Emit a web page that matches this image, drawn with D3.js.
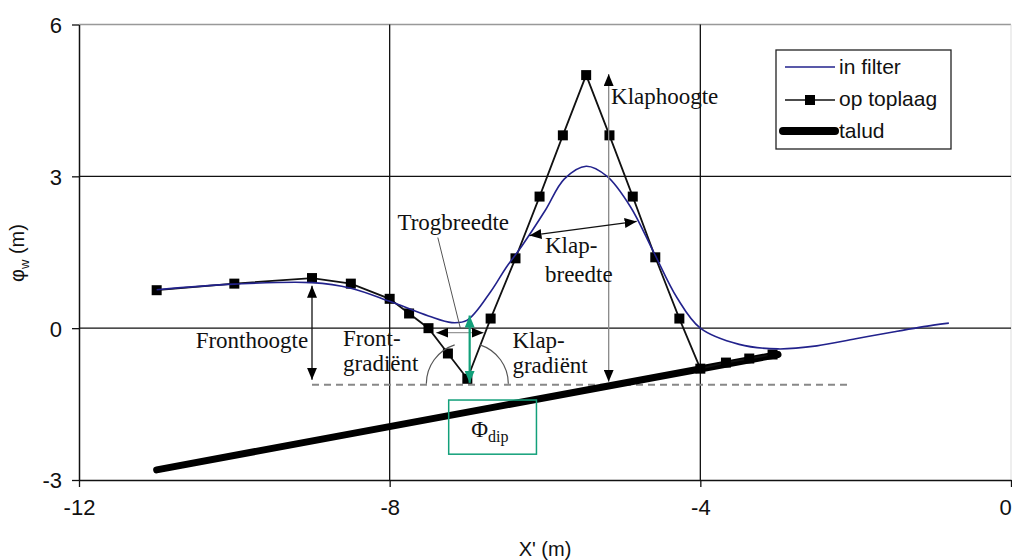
<!DOCTYPE html>
<html lang="nl">
<head>
<meta charset="UTF-8">
<script src="https://d3js.org/d3.v7.min.js"></script>
<title>Golfklap</title>
<style>
body{margin:0;background:#fff;}
svg text{font-family:"Liberation Sans",Arial,sans-serif;}
.ann{font-family:"Liberation Serif","Times New Roman",serif;font-size:23px;fill:#111;}
</style>
</head>
<body>
<div id="chart"></div>
<script>
// tick labels
var xTicks = [-12, -8, -4, 0];
var yTicks = [-3, 0, 3, 6];

// in filter (smooth curve)
var filterX = [-11, -10, -9, -8.5, -8, -7.5, -7.2, -7.0, -6.7, -6.5, -6.3, -6.0, -5.75, -5.47, -5.2, -4.9, -4.6, -4.3, -4.0, -3.5, -3.0, -2.5, -2.0, -1.5, -1.0, -0.8];
var filterY = [0.76, 0.87, 0.9, 0.79, 0.53, 0.24, 0.11, 0.16, 0.72, 1.2, 1.62, 2.32, 2.95, 3.2, 3.0, 2.4, 1.5, 0.6, 0.0, -0.32, -0.41, -0.35, -0.21, -0.07, 0.06, 0.1];

// op toplaag (markers)
var toplaagX = [-11, -10, -9, -8.5, -8, -7.75, -7.5, -7.25, -7, -6.7, -6.38, -6.07, -5.77, -5.47, -5.17, -4.87, -4.58, -4.27, -4, -3.67, -3.37, -3.07];
var toplaagY = [0.75, 0.88, 0.99, 0.88, 0.58, 0.29, 0, -0.5, -1.0, 0.19, 1.38, 2.6, 3.81, 5.0, 3.81, 2.6, 1.4, 0.19, -0.8, -0.68, -0.6, -0.52];

// talud
var taludX = [-11, -3];
var taludY = [-2.8, -0.52];

window.onload = function() {
	var width = 1012, height = 560;
	var x = d3.scaleLinear().domain([-12, 0]).range([79, 1011]);
	var y = d3.scaleLinear().domain([-3, 6]).range([480, 24.5]);

	var svg = d3.select("#chart").append("svg")
		.attr("width", width).attr("height", height);

	var defs = svg.append("defs");
	function marker(id, color) {
		defs.append("marker")
			.attr("id", id)
			.attr("viewBox", "0 0 12 10")
			.attr("refX", 12).attr("refY", 5)
			.attr("markerUnits", "userSpaceOnUse")
			.attr("markerWidth", 12).attr("markerHeight", 10)
			.attr("orient", "auto-start-reverse")
			.append("path")
			.attr("d", "M0,0 L12,5 L0,10 z")
			.attr("fill", color);
	}
	marker("ah", "#000");
	marker("ahg", "#12a07a");

	// grid
	svg.append("line").attr("x1", x(-12)).attr("x2", x(0)).attr("y1", y(6)).attr("y2", y(6))
		.attr("stroke", "#999").attr("stroke-width", 1.5);
	svg.append("line").attr("x1", x(0)).attr("x2", x(0)).attr("y1", y(6)).attr("y2", y(-3))
		.attr("stroke", "#ddd").attr("stroke-width", 1);
	[0, 3].forEach(function(v) {
		svg.append("line").attr("x1", x(-12)).attr("x2", x(0)).attr("y1", y(v)).attr("y2", y(v))
			.attr("stroke", "#111").attr("stroke-width", 1.3);
	});
	[-8, -4].forEach(function(v) {
		svg.append("line").attr("x1", x(v)).attr("x2", x(v)).attr("y1", y(6)).attr("y2", y(-3))
			.attr("stroke", "#111").attr("stroke-width", 1.3);
	});

	// axes
	var fmt = function(d) { return String(d); };
	var xAxis = svg.append("g").attr("transform", "translate(0," + y(-3) + ")")
		.call(d3.axisBottom(x).tickValues(xTicks).tickFormat(fmt).tickSize(7).tickSizeOuter(0).tickPadding(12));
	var yAxis = svg.append("g").attr("transform", "translate(" + x(-12) + ",0)")
		.call(d3.axisLeft(y).tickValues(yTicks).tickFormat(fmt).tickSize(7).tickSizeOuter(0).tickPadding(10));
	[xAxis, yAxis].forEach(function(g) {
		g.select(".domain").attr("stroke", "#111").attr("stroke-width", 1.5);
		g.selectAll(".tick line").attr("stroke", "#111").attr("stroke-width", 1.3);
		g.selectAll("text").attr("font-size", 22).attr("fill", "#111")
			.attr("font-family", "Liberation Sans, Arial, sans-serif");
	});
	yAxis.selectAll("text").attr("dy", "0.36em");
	// keep the last x label inside the page
	xAxis.selectAll(".tick text").filter(function(d) { return d === 0; }).attr("dx", -6);

	// axis titles
	svg.append("text").attr("x", 545).attr("y", 556).attr("text-anchor", "middle")
		.attr("font-size", 20).attr("fill", "#111").text("X' (m)");
	var yt = svg.append("text").attr("transform", "translate(24,253) rotate(-90)")
		.attr("text-anchor", "middle").attr("font-size", 20).attr("fill", "#111");
	yt.append("tspan").text("φ");
	yt.append("tspan").attr("font-size", 13).attr("dy", 5).text("w");
	yt.append("tspan").attr("dy", -5).text(" (m)");

	// dashed reference line
	svg.append("line").attr("x1", x(-9)).attr("x2", x(-2.1)).attr("y1", y(-1.12)).attr("y2", y(-1.12))
		.attr("stroke", "#888").attr("stroke-width", 2).attr("stroke-dasharray", "7,5");

	// talud
	var taludData = taludX.map(function(d, i) { return [d, taludY[i]]; });
	svg.append("path").datum(taludData)
		.attr("d", d3.line().x(function(d) { return x(d[0]); }).y(function(d) { return y(d[1]); }))
		.attr("fill", "none").attr("stroke", "#000").attr("stroke-width", 7).attr("stroke-linecap", "round");

	// op toplaag
	var topData = toplaagX.map(function(d, i) { return [d, toplaagY[i]]; });
	svg.append("path").datum(topData)
		.attr("d", d3.line().x(function(d) { return x(d[0]); }).y(function(d) { return y(d[1]); }))
		.attr("fill", "none").attr("stroke", "#111").attr("stroke-width", 1.8);
	svg.selectAll(".sq").data(topData).enter().append("rect")
		.attr("class", "sq")
		.attr("x", function(d) { return x(d[0]) - 5; })
		.attr("y", function(d) { return y(d[1]) - 5; })
		.attr("width", 10).attr("height", 10).attr("fill", "#000");

	// in filter
	var filterData = filterX.map(function(d, i) { return [d, filterY[i]]; });
	svg.append("path").datum(filterData)
		.attr("d", d3.line().curve(d3.curveCatmullRom.alpha(0.5))
			.x(function(d) { return x(d[0]); }).y(function(d) { return y(d[1]); }))
		.attr("fill", "none").attr("stroke", "#22228c").attr("stroke-width", 1.6);

	// annotation arrows
	function arrow(x1, y1, x2, y2, color, both, mk, w) {
		var l = svg.append("line")
			.attr("x1", x(x1)).attr("y1", y(y1)).attr("x2", x(x2)).attr("y2", y(y2))
			.attr("stroke", color).attr("stroke-width", w || 1.3)
			.attr("marker-end", "url(#" + mk + ")");
		if (both) l.attr("marker-start", "url(#" + mk + ")");
	}
	arrow(-9, 0.84, -9, -1.02, "#111", true, "ah");            // Fronthoogte
	arrow(-5.18, 5.02, -5.18, -1.06, "#888", true, "ah");      // Klaphoogte
	arrow(-6.2, 1.83, -4.82, 2.11, "#111", true, "ah");        // Klapbreedte
	arrow(-7.4, -0.09, -6.79, -0.09, "#999", true, "ah");      // Trogbreedte
	arrow(-7.38, 1.79, -7.09, 0.0, "#555", false, "none", 1);  // leader
	arrow(-6.97, 0.25, -6.97, -1.08, "#12a07a", true, "ahg", 2.2); // Phi dip

	// gradient arcs around the trough
	var cx = x(-7), cy = y(-1.1), r = 41;
	function arcPath(a0, a1) {
		var p0 = [cx + r * Math.cos(a0), cy - r * Math.sin(a0)];
		var p1 = [cx + r * Math.cos(a1), cy - r * Math.sin(a1)];
		return "M" + p0[0] + "," + p0[1] + " A" + r + "," + r + " 0 0 0 " + p1[0] + "," + p1[1];
	}
	svg.append("path").attr("d", arcPath(Math.PI * 0.6, Math.PI))
		.attr("fill", "none").attr("stroke", "#555").attr("stroke-width", 1.2);
	svg.append("path").attr("d", arcPath(0, Math.PI * 0.4))
		.attr("fill", "none").attr("stroke", "#555").attr("stroke-width", 1.2);

	// Phi dip box
	svg.append("rect").attr("x", x(-7.24)).attr("y", y(-1.42))
		.attr("width", x(-6.11) - x(-7.24)).attr("height", y(-2.49) - y(-1.42))
		.attr("fill", "none").attr("stroke", "#12a07a").attr("stroke-width", 1.5);
	var phi = svg.append("text").attr("class", "ann").attr("x", x(-6.95)).attr("y", y(-2.15))
		.attr("font-size", 26);
	phi.append("tspan").text("Φ");
	phi.append("tspan").attr("font-size", 16).attr("dy", 5).text("dip");

	// annotation texts
	function label(t, px, py, anchor) {
		svg.append("text").attr("class", "ann").attr("x", x(px)).attr("y", y(py))
			.attr("text-anchor", anchor || "start").text(t);
	}
	label("Fronthoogte", -9.05, -0.4, "end");
	label("Front-", -8.6, -0.36);
	label("gradiënt", -8.6, -0.84);
	label("Trogbreedte", -7.9, 1.94);
	label("Klap-", -6.42, -0.4);
	label("gradiënt", -6.42, -0.88);
	label("Klap-", -6.0, 1.48);
	label("breedte", -6.0, 0.92);
	label("Klaphoogte", -5.15, 4.42);

	// legend
	var lg = svg.append("g");
	lg.append("rect").attr("x", 776).attr("y", 50).attr("width", 175).attr("height", 99)
		.attr("fill", "#fff").attr("stroke", "#222").attr("stroke-width", 1.3);
	lg.append("line").attr("x1", 785).attr("x2", 835).attr("y1", 67).attr("y2", 67)
		.attr("stroke", "#22228c").attr("stroke-width", 1.6);
	lg.append("line").attr("x1", 785).attr("x2", 835).attr("y1", 100).attr("y2", 100)
		.attr("stroke", "#111").attr("stroke-width", 1.5);
	lg.append("rect").attr("x", 805).attr("y", 95).attr("width", 10).attr("height", 10).attr("fill", "#000");
	lg.append("line").attr("x1", 783).attr("x2", 835).attr("y1", 131).attr("y2", 131)
		.attr("stroke", "#000").attr("stroke-width", 8).attr("stroke-linecap", "round");
	var names = ["in filter", "op toplaag", "talud"];
	lg.selectAll(".lt").data(names).enter().append("text")
		.attr("x", 839).attr("y", function(d, i) { return 67 + i * 32; })
		.attr("dy", "0.35em").attr("font-size", 21).attr("fill", "#111")
		.text(function(d) { return d; });
};
</script>
</body>
</html>
